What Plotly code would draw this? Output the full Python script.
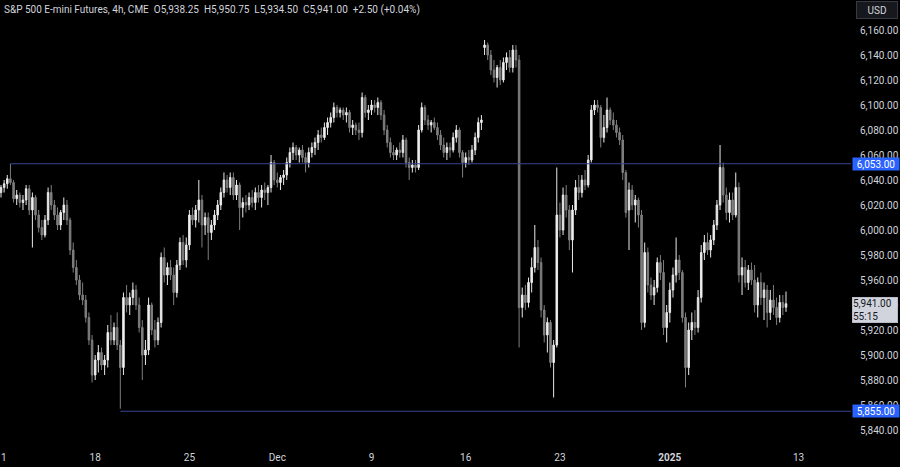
import plotly.graph_objects as go

# ---- session calendar (CME 4h bars per session) ----
session_dates = [
    "2024-11-11", "2024-11-12", "2024-11-13", "2024-11-14", "2024-11-15",
    "2024-11-18", "2024-11-19", "2024-11-20", "2024-11-21", "2024-11-22",
    "2024-11-25", "2024-11-26", "2024-11-27", "2024-11-28", "2024-11-29",
    "2024-12-02", "2024-12-03", "2024-12-04", "2024-12-05", "2024-12-06",
    "2024-12-09", "2024-12-10", "2024-12-11", "2024-12-12", "2024-12-13",
    "2024-12-16", "2024-12-17", "2024-12-18", "2024-12-19", "2024-12-20",
    "2024-12-23", "2024-12-24", "2024-12-26", "2024-12-27",
    "2024-12-30", "2024-12-31",
    "2025-01-02", "2025-01-03",
    "2025-01-06", "2025-01-07", "2025-01-08", "2025-01-09", "2025-01-10",
    "2025-01-13",
]
session_bars = [
    6, 6, 6, 6, 6,
    6, 6, 6, 6, 6,
    6, 6, 6, 5, 5,
    6, 6, 6, 6, 6,
    6, 6, 6, 6, 6,
    6, 6, 6, 6, 6,
    6, 5, 6, 6,
    6, 6,
    6, 6,
    6, 6, 6, 5, 6,
    6,
]
tick_dates = ["2024-11-11", "2024-11-18", "2024-11-25", "2024-12-02", "2024-12-09",
              "2024-12-16", "2024-12-23", "2025-01-02", "2025-01-13"]
tick_labels = ["11", "18", "25", "Dec", "9", "16", "23", "<b>2025</b>", "13"]
price_ticks = [5840, 5860, 5880, 5900, 5920, 5940, 5960, 5980, 6000, 6020,
               6040, 6060, 6080, 6100, 6120, 6140, 6160]

# ---- OHLC values ----
opens = [
    6030, 6034, 6037, 6041, 6038, 6025, 6028, 6022, 6024, 6033,
    6016, 6026, 6012, 6002, 5996, 6008, 6030, 6020, 6012, 6004,
    6014, 6020, 6008, 5984, 5970, 5960, 5948, 5944, 5930, 5912,
    5884, 5896, 5902, 5892, 5896, 5918, 5912, 5922, 5908, 5890,
    5946, 5940, 5946, 5952, 5940, 5922, 5900, 5904, 5940, 5920,
    5912, 5926, 5978, 5964, 5970, 5964, 5950, 5972, 5990, 5976,
    5988, 6012, 6008, 6016, 6024, 6004, 6010, 5998, 6004, 6012,
    6020, 6030, 6040, 6034, 6042, 6028, 6036, 6018, 6022, 6020,
    6026, 6022, 6030, 6026, 6032, 6030, 6034, 6054, 6040, 6038,
    6042, 6044, 6054, 6062, 6066, 6060, 6064, 6058, 6054, 6062,
    6066, 6070, 6076, 6074, 6082, 6086, 6090, 6098, 6094, 6096,
    6092, 6094, 6082, 6084, 6080, 6078, 6106, 6094, 6096, 6100,
    6098, 6102, 6092, 6080, 6070, 6062, 6060, 6064, 6062, 6072,
    6054, 6050, 6052, 6050, 6080, 6098, 6088, 6084, 6086, 6082,
    6076, 6068, 6062, 6066, 6064, 6074, 6080, 6062, 6054, 6058,
    6056, 6064, 6074, 6086, 6146, 6148, 6140, 6128, 6122, 6130,
    6120, 6134, 6138, 6130, 6144, 6136, 5938, 5948, 5942, 5958,
    5970, 5986, 5974, 5936, 5916, 5926, 5894, 5908, 6012, 6000,
    6028, 6016, 5992, 6016, 6034, 6030, 6040, 6036, 6056, 6096,
    6100, 6098, 6074, 6082, 6096, 6088, 6084, 6078, 6072, 6046,
    6016, 6032, 6020, 6024, 6012, 5926, 5982, 5956, 5948, 5954,
    5974, 5966, 5922, 5934, 5952, 5964, 5976, 5966, 5930, 5890,
    5920, 5926, 5922, 5946, 5982, 5990, 5984, 5992, 6004, 6020,
    6050, 6028, 6014, 6024, 6012, 6034, 5964, 5970, 5958, 5968,
    5960, 5940, 5958, 5946, 5952, 5934, 5944, 5938, 5930, 5942,
    5938.25,
]
highs = [
    6036, 6040, 6044, 6053, 6040, 6032, 6030, 6028, 6036, 6036,
    6030, 6028, 6016, 6008, 6012, 6034, 6036, 6024, 6018, 6016,
    6026, 6024, 6010, 5990, 5976, 5964, 5958, 5948, 5934, 5916,
    5900, 5908, 5906, 5900, 5924, 5932, 5926, 5934, 5912, 5950,
    5956, 5950, 5958, 5956, 5946, 5928, 5912, 5946, 5942, 5928,
    5930, 5982, 5986, 5974, 5976, 5970, 5976, 5994, 5996, 5994,
    6016, 6018, 6020, 6040, 6028, 6014, 6014, 6008, 6016, 6024,
    6034, 6046, 6044, 6046, 6046, 6040, 6038, 6026, 6028, 6030,
    6032, 6034, 6036, 6036, 6038, 6036, 6060, 6056, 6046, 6044,
    6048, 6058, 6066, 6070, 6068, 6066, 6068, 6062, 6066, 6070,
    6074, 6080, 6082, 6086, 6090, 6094, 6102, 6100, 6098, 6098,
    6098, 6096, 6088, 6086, 6086, 6110, 6108, 6100, 6104, 6104,
    6106, 6104, 6096, 6084, 6074, 6068, 6066, 6070, 6076, 6074,
    6058, 6056, 6056, 6084, 6102, 6100, 6092, 6088, 6090, 6086,
    6080, 6074, 6070, 6070, 6078, 6084, 6082, 6064, 6062, 6064,
    6068, 6078, 6090, 6092, 6152, 6150, 6144, 6136, 6132, 6136,
    6138, 6142, 6144, 6148, 6148, 6140, 5954, 5956, 5962, 5978,
    6004, 5992, 5978, 5940, 5930, 5928, 5912, 6050, 6022, 6034,
    6036, 6020, 6020, 6040, 6044, 6044, 6048, 6060, 6100, 6104,
    6104, 6100, 6092, 6106, 6098, 6094, 6088, 6082, 6076, 6048,
    6038, 6036, 6028, 6026, 6016, 5990, 5986, 5962, 5960, 5978,
    5980, 5976, 5940, 5958, 5970, 5994, 5980, 5968, 5934, 5926,
    5934, 5936, 5952, 5988, 5996, 5998, 5996, 6008, 6024, 6068,
    6054, 6034, 6030, 6030, 6046, 6038, 5978, 5976, 5972, 5974,
    5972, 5962, 5966, 5958, 5956, 5952, 5956, 5946, 5948, 5948,
    5950.75,
]
lows = [
    6026, 6030, 6033, 6036, 6022, 6020, 6018, 6016, 6020, 6012,
    5986, 6008, 5998, 5992, 5994, 6004, 6016, 6008, 6000, 6000,
    6008, 6004, 5980, 5966, 5956, 5944, 5940, 5926, 5908, 5878,
    5880, 5886, 5888, 5884, 5890, 5908, 5908, 5904, 5857, 5884,
    5934, 5932, 5940, 5936, 5918, 5880, 5892, 5900, 5916, 5906,
    5908, 5922, 5958, 5956, 5960, 5940, 5946, 5968, 5972, 5970,
    5984, 6004, 6002, 6006, 5986, 5996, 5976, 5992, 6000, 6008,
    6016, 6026, 6030, 6028, 6024, 6024, 6000, 6010, 6014, 6016,
    6018, 6016, 6022, 6018, 6024, 6020, 6030, 6036, 6034, 6032,
    6036, 6040, 6050, 6056, 6056, 6054, 6054, 6046, 6050, 6058,
    6060, 6064, 6070, 6072, 6076, 6082, 6086, 6090, 6090, 6088,
    6086, 6078, 6076, 6076, 6072, 6074, 6090, 6088, 6092, 6094,
    6092, 6088, 6076, 6066, 6058, 6056, 6056, 6058, 6058, 6050,
    6040, 6046, 6046, 6048, 6078, 6084, 6080, 6078, 6080, 6072,
    6064, 6058, 6056, 6058, 6062, 6070, 6058, 6042, 6050, 6052,
    6054, 6060, 6070, 6080, 6140, 6136, 6124, 6118, 6114, 6116,
    6118, 6128, 6126, 6126, 6130, 5906, 5930, 5936, 5938, 5950,
    5966, 5968, 5930, 5910, 5902, 5890, 5866, 5906, 5994, 5996,
    6010, 5984, 5966, 6012, 6024, 6026, 6032, 6034, 6054, 6092,
    6094, 6066, 6070, 6078, 6084, 6080, 6074, 6068, 6040, 6010,
    5984, 6016, 6006, 6002, 5920, 5922, 5950, 5944, 5940, 5950,
    5960, 5916, 5910, 5926, 5946, 5958, 5960, 5926, 5874, 5884,
    5912, 5916, 5918, 5942, 5976, 5980, 5978, 5988, 6000, 6016,
    6022, 6008, 6006, 6008, 6010, 5958, 5948, 5954, 5952, 5956,
    5934, 5930, 5940, 5928, 5922, 5928, 5932, 5924, 5926, 5932,
    5934.5,
]
closes = [
    6034, 6037, 6041, 6038, 6025, 6028, 6022, 6024, 6033, 6016,
    6026, 6012, 6002, 5996, 6008, 6030, 6020, 6012, 6004, 6014,
    6020, 6008, 5984, 5970, 5960, 5948, 5944, 5930, 5912, 5884,
    5896, 5902, 5892, 5896, 5918, 5912, 5922, 5908, 5890, 5946,
    5940, 5946, 5952, 5940, 5922, 5900, 5904, 5940, 5920, 5912,
    5926, 5978, 5964, 5970, 5964, 5950, 5972, 5990, 5976, 5988,
    6012, 6008, 6016, 6024, 6004, 6010, 5998, 6004, 6012, 6020,
    6030, 6040, 6034, 6042, 6028, 6036, 6018, 6022, 6020, 6026,
    6022, 6030, 6026, 6032, 6030, 6034, 6054, 6040, 6038, 6042,
    6044, 6054, 6062, 6066, 6060, 6064, 6058, 6054, 6062, 6066,
    6070, 6076, 6074, 6082, 6086, 6090, 6098, 6094, 6096, 6092,
    6094, 6082, 6084, 6080, 6078, 6106, 6094, 6096, 6100, 6098,
    6102, 6092, 6080, 6070, 6062, 6060, 6064, 6062, 6072, 6054,
    6050, 6052, 6050, 6080, 6098, 6088, 6084, 6086, 6082, 6076,
    6068, 6062, 6066, 6064, 6074, 6080, 6062, 6054, 6058, 6056,
    6064, 6074, 6086, 6088, 6148, 6140, 6128, 6122, 6130, 6120,
    6134, 6138, 6130, 6144, 6136, 5938, 5948, 5942, 5958, 5970,
    5986, 5974, 5936, 5916, 5926, 5894, 5908, 6012, 6000, 6028,
    6016, 5992, 6016, 6034, 6030, 6040, 6036, 6056, 6096, 6100,
    6098, 6074, 6082, 6096, 6088, 6084, 6078, 6072, 6046, 6014,
    6032, 6020, 6024, 6012, 5926, 5982, 5956, 5948, 5954, 5974,
    5966, 5922, 5934, 5952, 5964, 5976, 5966, 5930, 5890, 5920,
    5926, 5922, 5946, 5982, 5990, 5984, 5992, 6004, 6020, 6050,
    6028, 6014, 6024, 6012, 6034, 5964, 5970, 5958, 5968, 5960,
    5940, 5958, 5946, 5952, 5934, 5944, 5938, 5930, 5942, 5938,
    5941.00,
]

resistance_level = 6053.00
support_level = 5855.00
last_price = 5941.00
countdown = "55:15"
title_text = ("S&amp;P 500 E-mini Futures, 4h, CME&nbsp;&nbsp;O5,938.25&nbsp;&nbsp;H5,950.75"
              "&nbsp;&nbsp;L5,934.50&nbsp;&nbsp;C5,941.00&nbsp;&nbsp;+2.50 (+0.04%)")

# ---- bar index / tick positions derived from the session calendar ----
session_start = {}
idx = 0
for d, n in zip(session_dates, session_bars):
    session_start[d] = idx
    idx += n
xs = list(range(len(closes)))
tickvals = [session_start[d] for d in tick_dates]

# the level lines start at the bar that made the extreme
res_start = highs.index(max(h for h in highs if abs(h - resistance_level) < 0.01))
sup_start = lows.index(min(lows))

x_range = [-0.32, 270.7]
y_range = [5828.8, 6184.0]

TXT = "#d1d4dc"
BG = "#000000"
LEVEL = "#3b4394"

fig = go.Figure()
fig.add_trace(go.Scatter(x=[res_start, x_range[1] + 5], y=[resistance_level] * 2, mode="lines",
                         line=dict(color=LEVEL, width=1), hoverinfo="skip", showlegend=False))
fig.add_trace(go.Scatter(x=[sup_start, x_range[1] + 5], y=[support_level] * 2, mode="lines",
                         line=dict(color=LEVEL, width=1), hoverinfo="skip", showlegend=False))
fig.add_trace(go.Candlestick(
    x=xs, open=opens, high=highs, low=lows, close=closes,
    increasing=dict(line=dict(color="#e8e8e8", width=1), fillcolor="#f4f4f4"),
    decreasing=dict(line=dict(color="#7e7e7e", width=1), fillcolor="#7e7e7e"),
    whiskerwidth=0, showlegend=False, hoverinfo="skip",
))

font_family = "Roboto, 'Liberation Sans', Arial, sans-serif"

fig.update_layout(
    width=900, height=467,
    margin=dict(l=0, r=49, t=0, b=23, autoexpand=False),
    paper_bgcolor=BG, plot_bgcolor=BG,
    font=dict(family=font_family, size=10, color=TXT),
    showlegend=False,
    xaxis=dict(range=x_range, tickmode="array", tickvals=tickvals, ticktext=tick_labels,
               showgrid=False, zeroline=False, showline=False, ticks="",
               tickfont=dict(size=10, color=TXT), ticklabelstandoff=6,
               ticklabeloverflow="allow", automargin=False,
               rangeslider=dict(visible=False), fixedrange=True),
    yaxis=dict(range=y_range, side="right", tickmode="array", tickvals=price_ticks,
               tickformat=",.2f",
               showgrid=False, zeroline=False, showline=False, ticks="",
               tickfont=dict(size=10, color=TXT), ticklabelstandoff=8,
               ticklabeloverflow="allow", automargin=False, fixedrange=True),
)

ann = []
ann.append(dict(x=0, y=1, xref="paper", yref="paper", xanchor="left", yanchor="top",
                xshift=2, yshift=-2, text=title_text, showarrow=False,
                font=dict(size=10, color=TXT)))
for lvl in (resistance_level, support_level):
    ann.append(dict(x=1, y=lvl, xref="paper", yref="y", xanchor="left", yanchor="middle",
                    xshift=1, text=f"{lvl:,.2f}", showarrow=False, bgcolor="#2962ff",
                    width=46, height=12, borderpad=0, align="center",
                    font=dict(size=10, color="#ffffff")))
ann.append(dict(x=1, y=last_price, xref="paper", yref="y", xanchor="left", yanchor="top",
                xshift=1, yshift=7, text=f"{last_price:,.2f}<br>{countdown}", showarrow=False,
                bgcolor="#d1d4dc", bordercolor="#b8bcc6", borderwidth=1,
                width=44, height=24, borderpad=0, align="left",
                font=dict(size=10, color="#131722")))
ann.append(dict(x=1, y=1, xref="paper", yref="paper", xanchor="left", yanchor="top",
                xshift=5, yshift=-1, text="USD", showarrow=False,
                bgcolor="#16181d", bordercolor="#363a45", borderwidth=1,
                width=40, height=16, borderpad=0, align="center",
                font=dict(size=10, color=TXT)))
fig.update_layout(annotations=ann)

fig.write_html(
    "out.html",
    config={"displayModeBar": False, "staticPlot": True},
    post_script="document.body.style.margin='0';document.body.style.padding='0';"
                "document.body.style.overflow='hidden';document.body.style.background='#000';",
)
